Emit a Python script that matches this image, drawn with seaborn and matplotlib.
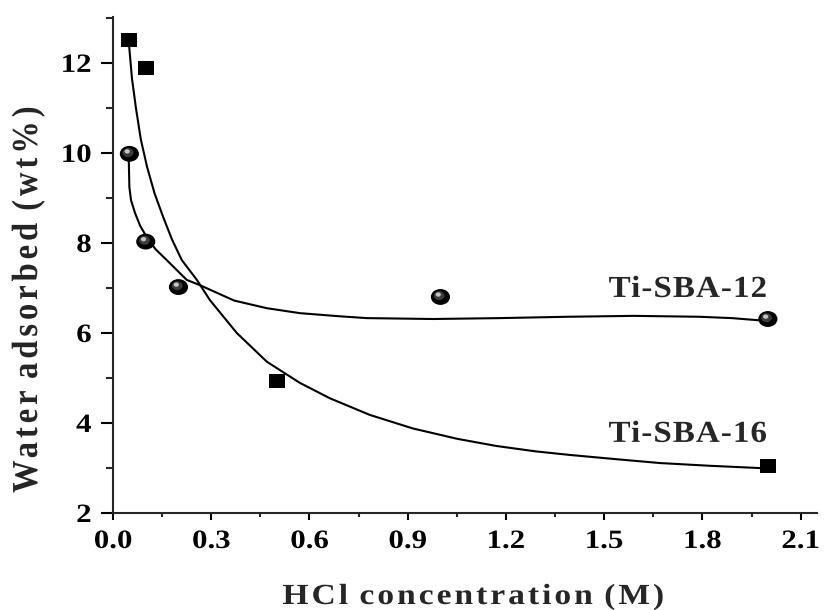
import numpy as np
import pandas as pd
import matplotlib
matplotlib.use("Agg")
import matplotlib.pyplot as plt
import seaborn as sns
from matplotlib.path import Path
from matplotlib.transforms import Affine2D, ScaledTranslation
from matplotlib.patheffects import AbstractPathEffect
from matplotlib.ticker import AutoMinorLocator
from matplotlib.textpath import text_to_path

# ---------------- data ----------------
sba16_x = [0.05, 0.10, 0.50, 2.00]
sba16_y = [12.50, 11.88, 4.93, 3.04]
sba12_x = [0.05, 0.10, 0.20, 1.00, 2.00]
sba12_y = [9.98, 8.03, 7.02, 6.80, 6.31]

# fitted curves as drawn in the reference
fit16_x = [0.049, 0.058, 0.070, 0.085, 0.104, 0.127, 0.153, 0.180, 0.210, 0.256, 0.296,
           0.378, 0.470, 0.571, 0.662, 0.784, 0.915, 1.050, 1.170, 1.290, 1.395,
           1.530, 1.670, 1.820, 1.970, 2.000]
fit16_y = [12.40, 11.65, 11.00, 10.30, 9.69, 9.10, 8.58, 8.08, 7.62, 7.18, 6.73,
           6.00, 5.36, 4.89, 4.55, 4.18, 3.88, 3.65, 3.49, 3.37, 3.29,
           3.20, 3.11, 3.05, 3.00, 2.99]
fit12_x = [0.048, 0.050, 0.055, 0.067, 0.083, 0.103, 0.130, 0.164, 0.225, 0.266,
           0.370, 0.470, 0.571, 0.693, 0.775, 0.977, 1.180, 1.390, 1.590, 1.790,
           1.890, 1.975, 2.000]
fit12_y = [9.90, 9.24, 8.95, 8.67, 8.38, 8.13, 7.86, 7.62, 7.18, 7.06,
           6.72, 6.55, 6.44, 6.37, 6.33, 6.31, 6.33, 6.36, 6.38, 6.36,
           6.33, 6.28, 6.27]

series_labels = ["Ti-SBA-12", "Ti-SBA-16"]
label_pos_x = [1.755, 1.755]
label_pos_y = [6.80, 3.58]

x_ticks = [0.0, 0.3, 0.6, 0.9, 1.2, 1.5, 1.8, 2.1]
y_ticks = [2, 4, 6, 8, 10, 12]
x_label = "HCl concentration (M)"
y_label = "Water adsorbed (wt%)"


# ---------------- text effect: horizontal stretch + letter spacing ----------------
class Spaced(AbstractPathEffect):
    def __init__(self, spacing_px=0.0, sx=1.0, sy=1.0, anchor="center"):
        super().__init__()
        self.sp = spacing_px
        self.sx = sx
        self.sy = sy
        self.anchor = anchor

    def draw_path(self, renderer, gc, tpath, affine, rgbFace=None):
        verts = np.array(tpath.vertices, dtype=float)
        codes = tpath.codes
        if len(verts) == 0 or codes is None:
            renderer.draw_path(gc, tpath, affine, rgbFace)
            return
        m = affine.get_matrix()[:2, :2]
        scale = np.sqrt(abs(np.linalg.det(m))) or 1.0
        sp_local = self.sp / scale
        valid = (codes != Path.CLOSEPOLY) & (codes != Path.STOP)
        starts = list(np.where(codes == Path.MOVETO)[0]) + [len(codes)]
        subs = []
        for a, b in zip(starts[:-1], starts[1:]):
            mask = valid[a:b]
            if mask.any():
                xs = verts[a:b][mask, 0]
                subs.append([a, b, xs.min(), xs.max()])
        xmin_all = min(s[2] for s in subs)
        xmax_all = max(s[3] for s in subs)
        order = sorted(range(len(subs)), key=lambda i: subs[i][2])
        em = text_to_path.FONT_SCALE
        cluster_of = {}
        k = -1
        cur_max = -1e18
        for i in order:
            if subs[i][2] < cur_max - 0.06 * em:
                cur_max = max(cur_max, subs[i][3])
            else:
                k += 1
                cur_max = subs[i][3]
            cluster_of[i] = k
        n = k + 1
        new = verts.copy()
        for i, s in enumerate(subs):
            new[s[0]:s[1], 0] += cluster_of[i] * sp_local
        extra = (n - 1) * sp_local
        if self.anchor == "center":
            cx = (xmin_all + xmax_all) / 2
            new[:, 0] -= extra / 2
        elif self.anchor == "right":
            cx = xmax_all
            new[:, 0] -= extra
        else:
            cx = xmin_all
        t = Affine2D().translate(-cx, 0).scale(self.sx, self.sy).translate(cx, 0) + affine
        renderer.draw_path(gc, Path(new, codes), t, rgbFace)


# ---------------- style ----------------
sns.set_style("ticks")
plt.rcParams["font.family"] = ["Liberation Serif", "DejaVu Serif"]
plt.rcParams["font.weight"] = "bold"
plt.rcParams["axes.linewidth"] = 1.5

fig = plt.figure(figsize=(8.26, 6.10), dpi=100)
W, H = 826, 610
ax = fig.add_axes([113 / W, 97 / H, 704 / W, 496 / H])

# curves
sns.lineplot(x=fit16_x, y=fit16_y, ax=ax, color="black", linewidth=1.5,
             sort=False, estimator=None)
sns.lineplot(x=fit12_x, y=fit12_y, ax=ax, color="black", linewidth=1.5,
             sort=False, estimator=None)

# square markers (slightly wider than tall)
sq = Path([(-0.57, -0.5), (0.57, -0.5), (0.57, 0.5), (-0.57, 0.5), (-0.57, -0.5)],
          [Path.MOVETO, Path.LINETO, Path.LINETO, Path.LINETO, Path.CLOSEPOLY])
sns.scatterplot(x=sba16_x, y=sba16_y, ax=ax, marker=sq, s=135, color="black",
                edgecolor="none", linewidth=0, zorder=5)

# shiny sphere markers (ellipses)
ell = Path.unit_circle().transformed(Affine2D().scale(1.0, 0.83))
sns.scatterplot(x=sba12_x, y=sba12_y, ax=ax, marker=ell, s=190, color="black",
                edgecolor="none", linewidth=0, zorder=5)
off1 = ax.transData + ScaledTranslation(-1.3 / 100, 1.3 / 100, fig.dpi_scale_trans)
sns.scatterplot(x=sba12_x, y=sba12_y, ax=ax, marker=ell, s=60, color="#3c3c3c",
                edgecolor="none", linewidth=0, zorder=6, transform=off1)
off2 = ax.transData + ScaledTranslation(-2.2 / 100, 2.4 / 100, fig.dpi_scale_trans)
sns.scatterplot(x=sba12_x, y=sba12_y, ax=ax, marker=ell, s=14, color="#c4c4c4",
                edgecolor="none", linewidth=0, zorder=7, transform=off2)

# axes
ax.set_xlim(0, 2.15)
ax.set_ylim(2, 13.02)
ax.set_xticks(x_ticks)
ax.set_yticks(y_ticks)
ax.set_xticklabels([f"{v:.1f}" for v in x_ticks])
ax.set_yticklabels([str(v) for v in y_ticks])
ax.xaxis.set_minor_locator(AutoMinorLocator(2))
ax.yaxis.set_minor_locator(AutoMinorLocator(2))
sns.despine(ax=ax)
ax.tick_params(axis="x", which="major", length=5.2, width=1.5, direction="out",
               labelsize=19, pad=7, colors="black")
ax.tick_params(axis="x", which="minor", length=3.2, width=1.5, direction="out")
ax.tick_params(axis="y", which="major", length=8.5, width=1.5, direction="out",
               labelsize=19, pad=7, colors="black")
ax.tick_params(axis="y", which="minor", length=5.0, width=1.5, direction="out")
ax.set_xlabel("")
ax.set_ylabel("")

# series labels
for lab, lx, ly in zip(series_labels, label_pos_x, label_pos_y):
    ax.text(lx, ly, lab, ha="center", va="baseline", fontsize=22, fontweight="bold",
            path_effects=[Spaced(1.0, 1.08, 1.0, "center")])

# axis titles (letter-spaced, as in the reference)
fig.text(473 / W, 6 / H, x_label, ha="center", va="baseline", fontsize=21,
         fontweight="bold", path_effects=[Spaced(2.6, 1.15, 1.0, "center")])
fig.text(37 / W, (H - 300) / H, y_label, ha="center", va="baseline", rotation=90,
         rotation_mode="anchor", fontsize=23.5, fontweight="bold",
         path_effects=[Spaced(3.9, 1.0, 1.12, "center")])

fig.canvas.draw()
for lbl in ax.get_xticklabels():
    lbl.set_path_effects([Spaced(0.0, 1.17, 1.0, "center")])
for lbl in ax.get_yticklabels():
    lbl.set_path_effects([Spaced(0.0, 1.17, 1.0, "right")])

fig.savefig("out.png", dpi=100)
